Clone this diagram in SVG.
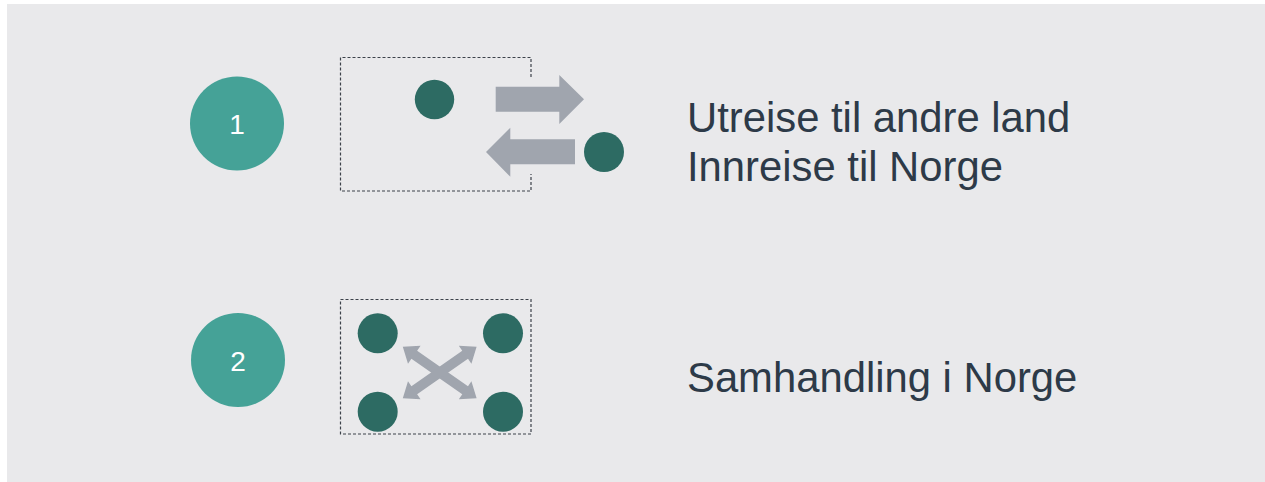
<svg xmlns="http://www.w3.org/2000/svg" width="1265" height="482" viewBox="0 0 1265 482">
<style>
.num{fill:#45a297}
.num-t{font-family:"Liberation Sans",Arial,sans-serif;font-size:28px;fill:#ffffff;text-anchor:middle}
.dot{fill:#2d6b63}
.arr{fill:#a0a5ae}
.box{fill:none;stroke:#3c424a;stroke-width:1.2;stroke-dasharray:3 2}
.lbl{font-family:"Liberation Sans",Arial,sans-serif;font-size:41.8px;fill:#2d3a48}
</style>
<rect x="7" y="4" width="1258" height="478" fill="#e9e9eb"/>
<g id="step1">
<circle class="num" cx="237" cy="123.5" r="47"/>
<text class="num-t" x="237" y="134">1</text>
</g>
<g id="box1">
<path class="box" d="M531 77V57.5H340.5V191H531V174"/>
<circle class="dot" cx="434.5" cy="99.5" r="19.7"/>
<circle class="dot" cx="604" cy="152" r="20"/>
</g>
<g id="box2">
<rect class="box" x="340.5" y="299.5" width="190.5" height="134.5"/>
<circle class="dot" cx="377.7" cy="333.3" r="20"/>
<circle class="dot" cx="503" cy="333.3" r="20"/>
<circle class="dot" cx="377.7" cy="411.7" r="20"/>
<circle class="dot" cx="503" cy="411.7" r="20"/>
</g>
<g id="step2">
<circle class="num" cx="238" cy="360" r="47"/>
<text class="num-t" x="238" y="370.5">2</text>
</g>
<g id="connectors">
<polygon class="arr" points="495.7,86.7 559.3,86.7 559.3,75 584,99.3 559.3,124 559.3,111.7 495.7,111.7"/>
<polygon class="arr" points="575,139.3 510.3,139.3 510.3,127.7 486,152 510.3,176.7 510.3,164.3 575,164.3"/>
<g transform="translate(439.7 372.5)">
<polygon class="arr" transform="rotate(34.9)" points="-45,0 -31,-11 -31,-5 31,-5 31,-11 45,0 31,11 31,5 -31,5 -31,11"/>
<polygon class="arr" transform="rotate(-34.9)" points="-45,0 -31,-11 -31,-5 31,-5 31,-11 45,0 31,11 31,5 -31,5 -31,11"/>
</g>
</g>
<g id="labels">
<text class="lbl" x="687" y="132">Utreise til andre land</text>
<text class="lbl" x="687" y="181">Innreise til Norge</text>
<text class="lbl" x="687" y="392">Samhandling i Norge</text>
</g>
</svg>
